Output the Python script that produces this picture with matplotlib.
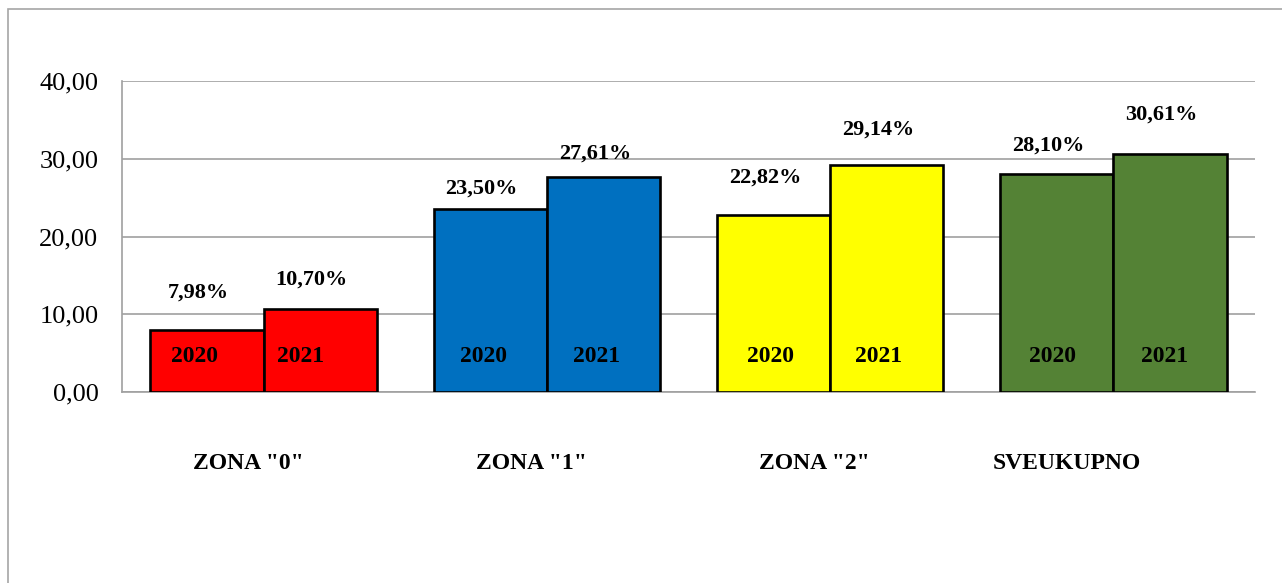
import matplotlib as mpl
mpl.use('Agg')
import matplotlib.pyplot as plt
from matplotlib.patches import Rectangle
import numpy as np

# podaci
categories = ['ZONA "0"', 'ZONA "1"', 'ZONA "2"', 'SVEUKUPNO']
years = ['2020', '2021']
vals_2020 = [7.98, 23.50, 22.82, 28.10]
vals_2021 = [10.70, 27.61, 29.14, 30.61]
colors = ['#FF0000', '#0070C0', '#FFFF00', '#548235']
yticks = [0, 10, 20, 30, 40]

# rucno pomaknute oznake (kao u excelu)
pct_lift = [[4.8, 3.7], [2.7, 3.0], [4.8, 4.6], [3.6, 5.1]]
year_dx = [[-0.045, -0.07], [-0.025, -0.025], [-0.01, -0.03], [-0.015, -0.02]]
cat_dx = [-0.055, -0.055, -0.055, -0.165]

plt.rcParams['font.family'] = ['Liberation Serif', 'DejaVu Serif']

fig = plt.figure(figsize=(12.82, 5.83), dpi=100)
ax = fig.add_axes([122 / 1282, 1 - 392 / 583, (1255 - 122) / 1282, (392 - 81) / 583])

# okvir oko grafa
fig.add_artist(Rectangle((8 / 1282, -0.1), 1.2, 1 - 9 / 583 + 0.1,
                         transform=fig.transFigure, fill=False,
                         edgecolor='#A6A6A6', linewidth=1.2))

x = np.arange(len(categories))
w = 0.4
for i in range(len(categories)):
    for j, vals in enumerate([vals_2020, vals_2021]):
        xc = x[i] - w / 2 + j * w
        ax.bar(xc, vals[i], width=w, color=colors[i], edgecolor='black',
               linewidth=1.9, zorder=3)
        ax.text(xc + year_dx[i][j], 4.6, years[j], ha='center', va='center',
                fontsize=17, fontweight='bold', zorder=4)
        lbl = ('%.2f%%' % vals[i]).replace('.', ',')
        ax.text(xc - 0.03, vals[i] + pct_lift[i][j], lbl, ha='center', va='center',
                fontsize=16, fontweight='bold', zorder=4)

for i, c in enumerate(categories):
    ax.text(x[i] + cat_dx[i], -9.2, c, ha='center', va='center',
            fontsize=17, fontweight='bold')

ax.set_xlim(-0.5, len(categories) - 0.5)
ax.set_ylim(0, 40)
ax.set_yticks(yticks)
ax.set_yticklabels([('%.2f' % t).replace('.', ',') for t in yticks], fontsize=19)
ax.set_xticks([])
ax.tick_params(axis='y', length=0, pad=17)
ax.grid(axis='y', color='#A0A0A0', linewidth=1.2, zorder=0)
for s in ['top', 'right']:
    ax.spines[s].set_visible(False)
for s in ['left', 'bottom']:
    ax.spines[s].set_color('#A0A0A0')
    ax.spines[s].set_linewidth(1.2)

plt.savefig('out.png', dpi=100)
plt.close()
